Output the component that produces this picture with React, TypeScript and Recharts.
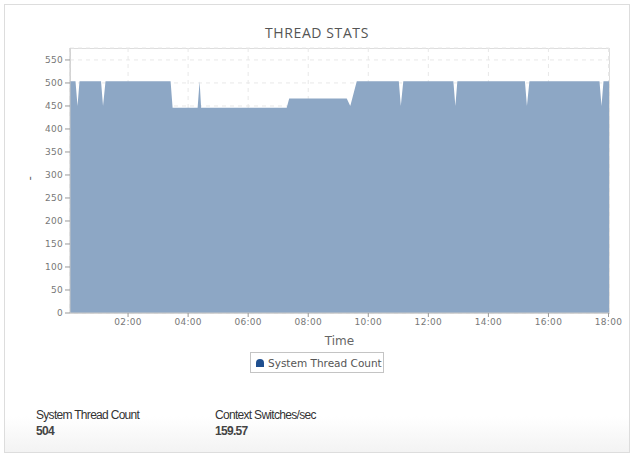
import React from "react";
import { AreaChart, Area, XAxis, YAxis, CartesianGrid } from "recharts";

// time of sample (HH:MM) and System Thread Count value
const times = [
  "00:04", "00:15", "00:19", "00:23", "01:06", "01:10", "01:15", "03:25", "03:29",
  "04:19", "04:23", "04:26", "07:17", "07:22", "09:17", "09:24", "09:28", "09:37",
  "11:01", "11:05", "11:10", "12:50", "12:54", "12:58", "15:13", "15:17", "15:22",
  "17:42", "17:46", "17:50", "18:01",
];
const threadCount = [
  504, 504, 450, 504, 504, 450, 504, 504, 446,
  446, 504, 446, 446, 466, 466, 450, 466, 504,
  504, 450, 504, 504, 450, 504, 504, 450, 504,
  504, 450, 504, 504,
];
const yTicks = [0, 50, 100, 150, 200, 250, 300, 350, 400, 450, 500, 550];
const xTickLabels = ["02:00", "04:00", "06:00", "08:00", "10:00", "12:00", "14:00", "16:00", "18:00"];
const statLabels = ["System Thread Count", "Context Switches/sec"];
const statValues = ["504", "159.57"];

const toMin = (s: string) => {
  const [h, m] = s.split(":").map(Number);
  return h * 60 + m;
};

const data = times.map((t, i) => ({ t: toMin(t), v: threadCount[i] }));
const xTicks = xTickLabels.map(toMin);
const fmt = (m: number) => {
  const h = Math.floor(m / 60);
  const mm = m % 60;
  return `${String(h).padStart(2, "0")}:${String(mm).padStart(2, "0")}`;
};

const tickStyle = { fontFamily: "DejaVu Sans", fontSize: 9, fill: "#777", letterSpacing: 0.3 };

export default function App() {
  return (
    <div style={{ position: "absolute", left: 0, top: 0, width: 634, height: 457, background: "#fff", fontFamily: "Liberation Sans, Arial, sans-serif" }}>
      <div
        style={{
          position: "absolute",
          left: 4,
          top: 4,
          width: 624,
          height: 447,
          border: "1px solid #dddddd",
          background: "linear-gradient(to bottom, #ffffff 0%, #ffffff 92%, #f3f3f3 100%)",
        }}
      />
      <div
        style={{
          position: "absolute",
          left: 0,
          width: 634,
          top: 23,
          textAlign: "center",
          fontFamily: "Open Sans",
          fontSize: 14,
          letterSpacing: 0.6,
          color: "#555",
        }}
      >
        THREAD STATS
      </div>
      <div
        style={{
          position: "absolute",
          left: 70,
          top: 48,
          width: 538,
          height: 264,
          border: "1px solid #dddddd",
        }}
      />
      <div style={{ position: "absolute", left: 0, top: 0 }}>
        <AreaChart width={634} height={457} data={data} margin={{ top: 48, right: 25, bottom: 114, left: 30 }}>
          <CartesianGrid strokeDasharray="4 4" stroke="#e8e8e8" />
          <XAxis
            dataKey="t"
            type="number"
            domain={[4, 1081]}
            ticks={xTicks}
            tickFormatter={fmt}
            tick={tickStyle}
            tickLine={{ stroke: "#999" }}
            tickSize={4}
            axisLine={{ stroke: "#c8c8c8" }}
            height={30}
            interval={0}
            allowDataOverflow
            label={{ value: "Time", position: "insideBottom", offset: -2, style: { fontFamily: "DejaVu Sans", fontSize: 12, fill: "#666" } }}
          />
          <YAxis
            type="number"
            domain={[0, 576]}
            ticks={yTicks}
            interval={0}
            tick={tickStyle}
            tickLine={{ stroke: "#999" }}
            tickSize={5}
            axisLine={{ stroke: "#c8c8c8" }}
            width={40}
            label={{ value: "-", angle: -90, position: "insideLeft", offset: 0, style: { fontFamily: "DejaVu Sans", fontSize: 12, fill: "#666" } }}
          />
          <Area
            type="linear"
            dataKey="v"
            name="System Thread Count"
            stroke="none"
            fill="#8da7c5"
            fillOpacity={1}
            isAnimationActive={false}
          />
        </AreaChart>
      </div>
      <div
        style={{
          position: "absolute",
          left: 250,
          top: 352,
          width: 132,
          height: 19,
          border: "1px solid #c4c4c4",
          display: "flex",
          alignItems: "center",
          fontFamily: "DejaVu Sans",
          fontSize: 10.5,
          color: "#555",
          whiteSpace: "nowrap",
          overflow: "hidden",
          boxSizing: "content-box",
        }}
      >
        <svg width={10} height={10} style={{ marginLeft: 4, marginRight: 3, flexShrink: 0 }}>
          <path d="M1 9 L1 5 Q1 1 5 1 Q9 1 9 5 L9 9 Z" fill="#1f4f8f" />
        </svg>
        <span>System Thread Count</span>
      </div>
      {statLabels.map((l, i) => (
        <div
          key={l}
          style={{ position: "absolute", left: i === 0 ? 36 : 215, top: 407, color: "#333", letterSpacing: -0.7 }}
        >
          <div style={{ fontSize: 12, lineHeight: "16px" }}>{l}</div>
          <div style={{ fontSize: 12, fontWeight: "bold", lineHeight: "16px", color: "#444" }}>{statValues[i]}</div>
        </div>
      ))}
    </div>
  );
}
